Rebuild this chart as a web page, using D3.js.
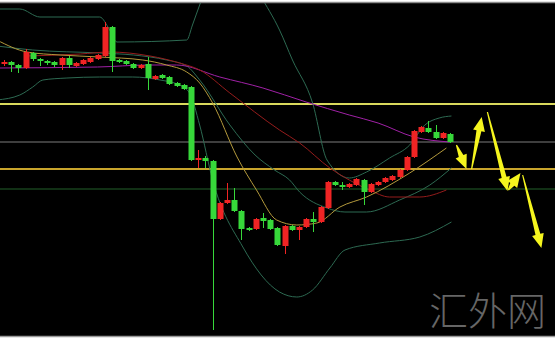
<!DOCTYPE html>
<html>
<head>
  <meta charset="utf-8" />
  <title>EURUSD candles</title>
  <script src="https://d3js.org/d3.v7.min.js"></script>
  <style>
    body { margin: 0; background: #fff; }
    svg { display: block; }
    .wm { font-family: "Noto Sans CJK SC", sans-serif; font-weight: 300; }
  </style>
</head>
<body>
  <script type="text/javascript">
    // - - - - - DATA - - - - - //
    var open = [1.1676,1.1678,1.1675,1.1672,1.1687,1.1681,1.1679,1.1678,1.1675,1.1682,
                1.1674,1.1676,1.1678,1.1681,1.1684,1.1713,1.1680,1.1679,1.1676,1.1672,
                1.1676,1.1661,1.1665,1.1663,1.1657,1.1655,1.1653,1.1580,1.1582,1.1579,
                1.1521,1.1537,1.1540,1.1529,1.1512,1.1511,1.1522,1.1520,1.1512,1.1494,
                1.1514,1.1510,1.1513,1.1521,1.1518,1.1532,1.1558,1.1555,1.1553,1.1555,
                1.1560,1.1548,1.1555,1.1558,1.1560,1.1563,1.1570,1.1583,1.1608,1.1612,
                1.1608,1.1602,1.1606];
    var high = [1.1680,1.1679,1.1676,1.1691,1.1688,1.1682,1.1680,1.1679,1.1683,1.1684,
                1.1678,1.1681,1.1683,1.1686,1.1718,1.1714,1.1681,1.1680,1.1677,1.1676,
                1.1683,1.1665,1.1666,1.1664,1.1658,1.1656,1.1654,1.1590,1.1584,1.1580,
                1.1538,1.1557,1.1552,1.1530,1.1513,1.1522,1.1527,1.1521,1.1513,1.1515,
                1.1515,1.1514,1.1522,1.1528,1.1534,1.1559,1.1559,1.1558,1.1557,1.1562,
                1.1561,1.1557,1.1559,1.1563,1.1565,1.1571,1.1584,1.1610,1.1614,1.1619,
                1.1615,1.1608,1.1607];
    var low  = [1.1674,1.1668,1.1667,1.1671,1.1679,1.1674,1.1675,1.1673,1.1670,1.1672,
                1.1673,1.1675,1.1677,1.1680,1.1683,1.1668,1.1677,1.1675,1.1671,1.1671,
                1.1650,1.1660,1.1661,1.1655,1.1653,1.1650,1.1579,1.1572,1.1572,1.1410,
                1.1520,1.1536,1.1528,1.1500,1.1509,1.1510,1.1512,1.1510,1.1494,1.1486,
                1.1509,1.1500,1.1512,1.1508,1.1517,1.1531,1.1554,1.1550,1.1552,1.1554,
                1.1535,1.1547,1.1554,1.1557,1.1559,1.1562,1.1569,1.1582,1.1607,1.1607,
                1.1601,1.1601,1.1597];
    var close = [1.1678,1.1675,1.1672,1.1688,1.1681,1.1679,1.1677,1.1675,1.1682,1.1675,
                 1.1677,1.1680,1.1682,1.1685,1.1713,1.1679,1.1678,1.1676,1.1672,1.1675,
                 1.1662,1.1664,1.1662,1.1656,1.1654,1.1651,1.1580,1.1582,1.1579,1.1521,
                 1.1537,1.1540,1.1529,1.1511,1.1510,1.1521,1.1519,1.1511,1.1495,1.1514,
                 1.1510,1.1513,1.1521,1.1518,1.1533,1.1558,1.1555,1.1553,1.1556,1.1561,
                 1.1548,1.1556,1.1558,1.1562,1.1564,1.1570,1.1583,1.1609,1.1613,1.1608,
                 1.1602,1.1607,1.1598];

    // indicator lines as [bar, price]
    var bbUpper = [[-1,1.1731],[2.2,1.1731],[5,1.1723],[13.3,1.1723],[14.7,1.1710],[15.7,1.1698],
                   [25.4,1.1700],[26.2,1.1715],[27.2,1.1735],[29.3,1.1770],[32.8,1.1780],[35.6,1.1745],
                   [38.3,1.1710],[40.1,1.1680],[42.9,1.1637],[44.9,1.1580],[48,1.1562],[50.4,1.1568],
                   [53.6,1.1582],[56.4,1.1595],[58.5,1.1615],[60.5,1.1622],[62.2,1.1624]];
    var bbMiddle = [[-1,1.1694],[4,1.1690],[13.3,1.1687],[18,1.1685],[22.6,1.1680],[25.4,1.1674],
                    [27.2,1.1660],[31.4,1.1615],[34.9,1.1585],[37.6,1.1570],[39.7,1.1560],[41.1,1.1548],
                    [44.9,1.1532],[47.4,1.1528],[50.4,1.1528],[55,1.1540],[59.2,1.1555],[62.2,1.1572]];
    var bbLower = [[-1,1.1640],[2.2,1.1645],[4,1.1653],[5.4,1.1660],[8.75,1.1662],[13.3,1.1663],
                   [17.9,1.1663],[21.7,1.1660],[24.4,1.1655],[25.8,1.1647],[27.2,1.1615],[29,1.1560],
                   [33.2,1.1493],[38.3,1.1448],[40.7,1.1443],[42.9,1.1450],[45.3,1.1472],[47.4,1.1490],
                   [52.2,1.1497],[57.8,1.1503],[62.2,1.1518]];
    var maFast = [[-1,1.1700],[3.2,1.1688],[7.8,1.1685],[13.3,1.1683],[19.3,1.1680],[22.6,1.1675],
                  [25.4,1.1668],[27.2,1.1657],[29,1.1637],[32.4,1.1583],[35.1,1.1550],[37.9,1.1520],
                  [40.7,1.1515],[43.5,1.1517],[46.7,1.1533],[50.4,1.1543],[56.4,1.1567],[61.5,1.1592]];
    var maMid = [[3,1.1684],[10.6,1.1686],[14.7,1.1688],[20.3,1.1684],[24.4,1.1677],[27.2,1.1670],
                 [31.4,1.1647],[38.3,1.1610],[41.1,1.1597],[45.3,1.1572],[48,1.1560],[50.8,1.1550],
                 [53.6,1.1543],[57.8,1.1543],[61.5,1.1550]];
    var maSlow = [[-1,1.1672],[13,1.1673],[20,1.1675],[24,1.1675],[30,1.1663],[36,1.1652],
                  [42,1.1638],[48,1.1625],[52,1.1617],[57,1.1603],[62,1.1598]];

    // horizontal levels
    var levels = [1.1636, 1.1598, 1.1571, 1.1551];
    var levelColors = ["#d9d95c", "#7c7c7c", "#c9a52c", "#22602a"];
    var levelWidths = [2, 1, 2, 1];

    // forecast arrows [fromBar, fromPrice, toBar, toPrice]
    var arrows = [[62.9,1.1595,64.3,1.1571],
                  [65.0,1.1571,66.4,1.1623],
                  [67.2,1.1628,70.0,1.1549],
                  [70.1,1.1550,71.8,1.1567],
                  [72.1,1.1565,74.7,1.1492]];

    // - - - - - CONSTANTS - - - - - //
    var W = 558, H = 340;
    var plot = {left: 0, right: 555, top: 3, bottom: 336};

    var x = d3.scaleLinear().domain([0, 62]).range([4, 450]);
    var y = d3.scaleLinear().domain([1.1400, 1.1740]).range([340, 0]);

    var svg = d3.select("body").append("svg")
        .attr("width", W)
        .attr("height", H);

    svg.append("rect")
        .attr("x", plot.left).attr("y", plot.top)
        .attr("width", plot.right - plot.left)
        .attr("height", plot.bottom - plot.top)
        .attr("fill", "#000");

    svg.append("clipPath").attr("id", "clip")
      .append("rect")
        .attr("x", plot.left).attr("y", plot.top)
        .attr("width", plot.right - plot.left)
        .attr("height", plot.bottom - plot.top);

    var g = svg.append("g").attr("clip-path", "url(#clip)");

    // watermark
    svg.append("text")
        .attr("class", "wm")
        .attr("x", 429).attr("y", 325)
        .attr("font-size", 39)
        .attr("fill", "#666")
        .text("汇外网");

    // frame lines
    svg.append("line").attr("x1", 0).attr("x2", plot.right).attr("y1", 2.5).attr("y2", 2.5)
        .attr("stroke", "#8a8a8a").attr("stroke-width", 1.5);
    svg.append("line").attr("x1", 0).attr("x2", plot.right).attr("y1", 336.5).attr("y2", 336.5)
        .attr("stroke", "#9a9a9a").attr("stroke-width", 1.5);

    // - - - - - LEVELS - - - - - //
    g.selectAll(".level")
        .data(levels)
      .enter().append("line")
        .attr("class", "level")
        .attr("x1", plot.left).attr("x2", plot.right)
        .attr("y1", function(d) { return y(d); })
        .attr("y2", function(d) { return y(d); })
        .attr("stroke", function(d, i) { return levelColors[i]; })
        .attr("stroke-width", function(d, i) { return levelWidths[i]; });

    // - - - - - INDICATORS - - - - - //
    var line = d3.line()
        .x(function(d) { return x(d[0]); })
        .y(function(d) { return y(d[1]); })
        .curve(d3.curveMonotoneX);

    var series = [
      {pts: bbUpper, color: "#2d6a52"},
      {pts: bbMiddle, color: "#2d6a52"},
      {pts: bbLower, color: "#2d6a52"},
      {pts: maSlow, color: "#a021a6"},
      {pts: maMid, color: "#951c1c"},
      {pts: maFast, color: "#b49a3c"}
    ];

    g.selectAll(".ind")
        .data(series)
      .enter().append("path")
        .attr("class", "ind")
        .attr("d", function(d) { return line(d.pts); })
        .attr("fill", "none")
        .attr("stroke", function(d) { return d.color; })
        .attr("stroke-width", 1);

    // - - - - - CANDLES - - - - - //
    var bars = d3.range(open.length).map(function(i) {
      return {i: i, o: open[i], h: high[i], l: low[i], c: close[i]};
    });
    var colorOf = function(d) { return d.c >= d.o ? "#f02424" : "#37d83a"; };

    var candle = g.selectAll(".candle")
        .data(bars)
      .enter().append("g")
        .attr("class", "candle");

    candle.append("line")
        .attr("x1", function(d) { return Math.round(x(d.i)) + 0.5; })
        .attr("x2", function(d) { return Math.round(x(d.i)) + 0.5; })
        .attr("y1", function(d) { return y(d.h); })
        .attr("y2", function(d) { return y(d.l); })
        .attr("stroke", colorOf);

    candle.append("rect")
        .attr("x", function(d) { return Math.round(x(d.i)) - 2.5; })
        .attr("width", 6)
        .attr("y", function(d) { return y(Math.max(d.o, d.c)); })
        .attr("height", function(d) { return Math.max(1.5, Math.abs(y(d.o) - y(d.c))); })
        .attr("fill", colorOf);

    // - - - - - ARROWS - - - - - //
    function arrowShape(a) {
      var x0 = x(a[0]), y0 = y(a[1]), x1 = x(a[2]), y1 = y(a[3]);
      var dx = x1 - x0, dy = y1 - y0, len = Math.sqrt(dx * dx + dy * dy);
      var ux = dx / len, uy = dy / len, nx = -uy, ny = ux;
      var head = 14, hw = 6;
      var bx = x1 - ux * head, by = y1 - uy * head;
      var p = [
        [x0 + nx * 0.6, y0 + ny * 0.6],
        [bx + nx * 2.5, by + ny * 2.5],
        [bx + nx * hw, by + ny * hw],
        [x1, y1],
        [bx - nx * hw, by - ny * hw],
        [bx - nx * 2.5, by - ny * 2.5],
        [x0 - nx * 0.6, y0 - ny * 0.6]
      ];
      return p.map(function(q) { return q[0].toFixed(1) + "," + q[1].toFixed(1); }).join(" ");
    }

    g.selectAll(".arrow")
        .data(arrows)
      .enter().append("polygon")
        .attr("class", "arrow")
        .attr("points", arrowShape)
        .attr("fill", "#f5f51e");
  </script>
</body>
</html>
